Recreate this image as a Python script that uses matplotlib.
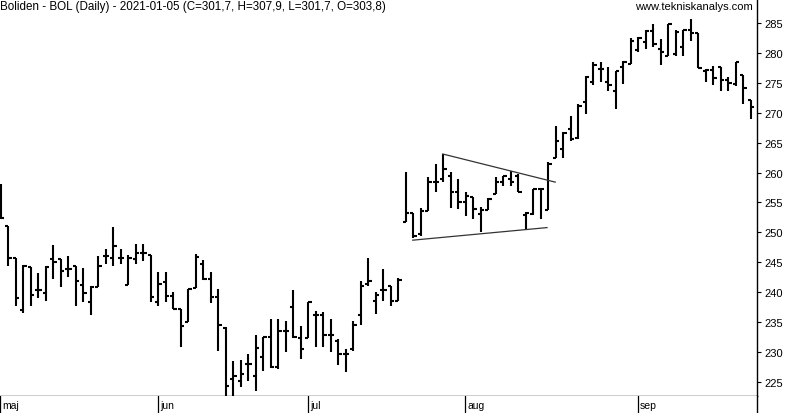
import matplotlib
matplotlib.use('Agg')
import matplotlib.pyplot as plt

plt.rcParams['font.family'] = ['Liberation Sans', 'DejaVu Sans']

opens = [256.5, 251.0, 245.7, 237.1, 244.2, 240.4, 239.9, 245.55, 245.6, 243.9,
         244.3, 241.2, 238.4, 240.8, 246.0, 245.7, 245.7, 241.2, 245.6, 246.6,
         246.2, 238.4, 241.65, 239.4, 237.2, 235.1, 240.7, 244.7, 242.2, 239.2,
         234.0, 225.5, 225.2, 228.0, 226.05, 229.1, 232.5, 227.5, 233.6, 237.5,
         232.3, 232.3, 236.2, 236.2, 232.9, 231.9, 229.7, 230.5, 236.2, 241.4,
         238.6, 240.3, 241.1, 238.6, 251.7, 253.25, 249.7, 253.6, 258.5, 258.9,
         259.5, 256.7, 255.0, 255.9, 253.1, 253.8, 256.4, 258.5, 259.0, 259.5,
         252.9, 253.1, 257.2, 253.8, 262.4, 263.9, 267.2, 265.8, 271.75, 275.2,
         277.3, 275.1, 273.7, 277.6, 278.15, 280.4, 281.8, 283.7, 280.65, 279.5,
         279.8, 280.9, 283.9, 283.3, 277.0, 277.2, 277.6, 275.4, 274.8, 276.3,
         272.2]
highs = [258.1, 251.0, 245.7, 244.6, 244.2, 243.2, 244.3, 247.9, 245.6, 246.0,
         244.3, 244.0, 241.1, 246.0, 247.2, 250.9, 247.3, 246.2, 248.1, 248.1,
         246.3, 243.3, 243.3, 240.0, 237.2, 240.5, 246.4, 245.4, 243.3, 240.5,
         234.2, 228.55, 228.6, 229.7, 232.9, 232.5, 235.6, 235.6, 235.2, 240.3,
         234.3, 238.4, 236.9, 236.7, 235.5, 232.2, 230.5, 235.25, 241.9, 245.8,
         240.0, 243.8, 241.1, 242.3, 260.15, 253.3, 254.0, 259.2, 261.4, 263.1,
         260.05, 258.9, 256.7, 255.9, 254.2, 255.7, 259.2, 259.5, 260.3, 259.8,
         253.4, 257.25, 257.4, 261.7, 267.8, 266.7, 269.5, 271.5, 276.2, 278.5,
         278.5, 277.6, 277.0, 278.7, 282.4, 282.6, 283.9, 284.8, 282.3, 284.8,
         283.9, 283.9, 285.7, 283.3, 277.3, 277.75, 277.6, 275.9, 278.4, 276.3,
         272.2]
lows = [252.2, 244.3, 237.7, 236.6, 237.7, 239.0, 238.6, 242.2, 240.8, 242.5,
        237.65, 238.4, 236.2, 240.8, 244.7, 244.4, 244.7, 241.2, 244.8, 245.3,
        238.3, 237.7, 238.4, 237.2, 230.8, 235.1, 240.65, 242.1, 238.2, 230.2,
        222.5, 222.7, 224.1, 225.2, 223.5, 226.9, 227.4, 227.2, 230.0, 232.3,
        228.8, 232.3, 230.8, 230.8, 229.95, 227.8, 226.7, 230.2, 234.5, 241.1,
        236.4, 238.6, 237.75, 238.6, 251.7, 249.0, 249.35, 253.6, 256.7, 258.4,
        254.0, 253.9, 252.8, 252.2, 250.1, 253.8, 256.4, 257.8, 257.8, 256.7,
        250.6, 252.9, 252.2, 253.8, 262.4, 262.4, 265.3, 265.6, 269.8, 274.6,
        275.2, 273.7, 270.6, 274.8, 278.15, 280.1, 280.65, 280.9, 278.0, 279.5,
        279.5, 279.5, 282.0, 277.4, 275.2, 274.6, 273.7, 273.7, 274.5, 271.5,
        269.0]
closes = [252.4, 245.7, 239.0, 244.4, 239.5, 240.4, 244.2, 245.1, 243.6, 243.9,
          241.9, 239.9, 240.8, 244.4, 246.0, 247.8, 245.7, 245.8, 246.5, 246.6,
          239.2, 241.4, 239.4, 237.2, 234.4, 240.5, 245.9, 242.2, 239.2, 234.5,
          224.4, 226.0, 226.3, 228.0, 230.6, 232.5, 227.5, 233.6, 233.6, 232.5,
          230.5, 238.4, 236.2, 232.9, 232.9, 229.7, 229.7, 234.5, 241.1, 241.9,
          239.6, 240.3, 238.6, 242.1, 253.25, 249.4, 253.6, 258.4, 258.5, 260.6,
          256.7, 255.0, 256.1, 253.9, 253.8, 255.5, 258.5, 259.4, 258.4, 256.8,
          253.3, 257.25, 257.3, 261.4, 265.3, 266.6, 265.6, 271.2, 275.9, 277.9,
          277.3, 274.6, 277.0, 278.5, 282.0, 282.4, 283.7, 281.5, 280.2, 284.8,
          283.5, 283.9, 283.3, 277.4, 277.2, 275.75, 275.4, 275.0, 278.4, 274.1,
          270.9]

months = ['maj', 'jun', 'jul', 'aug', 'sep']
month_start = [0, 21, 41, 62, 85]

# triangle drawn on the chart (bar index, price)
tri_lower_x = [54.9, 72.8]
tri_lower_y = [248.7, 250.8]
tri_upper_x = [58.9, 73.9]
tri_upper_y = [263.1, 258.4]

yticks = list(range(225, 290, 5))

W, H = 798, 414
fig = plt.figure(figsize=(W / 100, H / 100), dpi=100)
ax = fig.add_axes([0, 17 / H, 757 / W, 397 / H])
ax_m = fig.add_axes([0, 0, 757 / W, 17 / H], sharex=ax)

idx = list(range(len(closes)))
tick = 0.42
ax.vlines(idx, lows, highs, color='black', linewidth=1.5)
ax.hlines(opens, [i - tick for i in idx], idx, color='black', linewidth=1.5)
ax.hlines(closes, idx, [i + tick for i in idx], color='black', linewidth=1.5)

ax.plot(tri_lower_x, tri_lower_y, color='#333333', linewidth=0.9)
ax.plot(tri_upper_x, tri_upper_y, color='#333333', linewidth=0.9)

ax.set_xlim(-0.13, 100.8)
ax.set_ylim(222.66, 289.0)
ax.yaxis.tick_right()
ax.set_yticks(yticks)
ax.set_yticklabels([str(t) for t in yticks], fontsize=8)
ax.tick_params(axis='y', direction='out', length=3, width=0.8, pad=2)
ax.tick_params(axis='x', bottom=False, labelbottom=False)
for s in ['top', 'left']:
    ax.spines[s].set_visible(False)
ax.spines['right'].set_linewidth(1.0)
ax.spines['bottom'].set_linewidth(1.0)

for s in ['top', 'left', 'bottom']:
    ax_m.spines[s].set_visible(False)
ax_m.spines['right'].set_linewidth(1.0)
ax_m.set_ylim(0, 1)
ax_m.set_yticks([])
ax_m.tick_params(axis='x', bottom=False, labelbottom=False)
for m, s in zip(months, month_start):
    ax_m.axvline(s - 0.1, color='black', linewidth=0.9)
    ax_m.text(s + 0.2, 0.45, m, fontsize=7.5, va='center', ha='left',
              family=['Liberation Sans Narrow', 'Liberation Sans', 'DejaVu Sans'])

fig.text(0.5 / W, 1 - 7 / H, 'Boliden - BOL (Daily) - 2021-01-05 (C=301,7, H=307,9, L=301,7, O=303,8)',
         fontsize=8.4, va='center', ha='left')
fig.text(753 / W, 1 - 7 / H, 'www.tekniskanalys.com', fontsize=8, va='center', ha='right')

fig.savefig('out.png', dpi=100)
